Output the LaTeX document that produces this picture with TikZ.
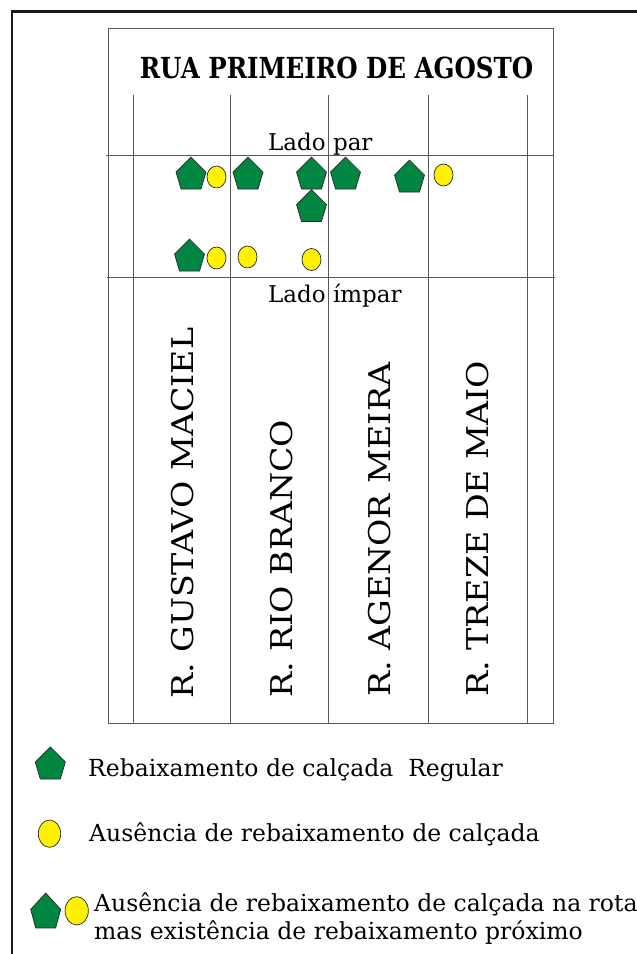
\documentclass[tikz,border=0pt]{standalone}
\usepackage{fontspec}
\setmainfont{DejaVu Serif}
\usetikzlibrary{shapes.geometric}
\definecolor{pentgreen}{RGB}{0,134,64}
\tikzset{
  reb/.pic={\path[draw=black!85, line width=0.7pt, fill=pentgreen] (0, -16) -- (15, -1) -- (10, 16) -- (-10, 16) -- (-15, -1) -- cycle;},
  aus/.style={ellipse, draw=black!85, line width=0.7pt, fill=yellow, minimum width=19pt, minimum height=22pt, inner sep=0pt},
  grade/.style={line width=1pt, color=black!65},
  rua/.style={rotate=90, anchor=base west, inner sep=0pt, font=\fontsize{30}{36}\selectfont, xscale=1.11},
  lado/.style={anchor=base west, inner sep=0pt, font=\fontsize{23}{28}\selectfont},
  legenda/.style={anchor=base west, inner sep=0pt, font=\fontsize{23.5}{28}\selectfont}
}

\begin{document}
\begin{tikzpicture}[x=1pt, y=-1pt]
			%%%%% MOLDURA %%%%%
			\useasboundingbox (0, 0) rectangle (637, 954);
			\draw[line width=2.7pt, color=black!90] (637, 11.5) -- (12, 11.5) -- (12, 954);
			
			\draw[grade] (108, 28.5) rectangle (553, 723);
			\draw[grade] (133, 95) -- (133, 723);
			\draw[grade] (230, 95) -- (230, 723);
			\draw[grade] (328, 95) -- (328, 723);
			\draw[grade] (428, 95) -- (428, 723);
			\draw[grade] (527, 95) -- (527, 723);
			\draw[grade] (106, 155) -- (553, 155);
			\draw[grade] (107, 277) -- (555, 277);
			
			\node[anchor=base, inner sep=0pt, font=\fontsize{29}{34}\selectfont\bfseries, xscale=0.845] (titulo) at (336.5, 78) {RUA PRIMEIRO DE AGOSTO};
			\node[lado] (par) at (268, 150) {Lado par};
			\node[lado] (impar) at (268, 302) {Lado ímpar};
			
			%%%%% RUAS %%%%%
			\node[rua] (gustavo) at (193.5, 699) {R. GUSTAVO MACIEL};
			\node[rua] (rio) at (292.5, 698) {R. RIO BRANCO};
			\node[rua] (agenor) at (390, 697) {R. AGENOR MEIRA};
			\node[rua] (treze) at (488, 697) {R. TREZE DE MAIO};
			
			%%%%% LADO PAR %%%%%
			\pic (p1) at (191, 173) {reb};
			\node[aus] (a1) at (216.5, 177) {};
			\pic (p2) at (248, 173) {reb};
			\pic (p3) at (311.5, 173) {reb};
			\pic (p4) at (345.5, 173) {reb};
			\pic (p5) at (409.5, 176) {reb};
			\node[aus] (a2) at (443.5, 175) {};
			\pic (p6) at (311.5, 205.5) {reb};
			
			%%%%% LADO IMPAR %%%%%
			\pic (p7) at (189.5, 255) {reb};
			\node[aus] (a3) at (216.5, 258) {};
			\node[aus] (a4) at (247.5, 257) {};
			\node[aus] (a5) at (311.5, 259.5) {};
			
			%%%%% LEGENDA %%%%%
			\pic (lp1) at (50.3, 763) {reb};
			\node[legenda] (l1) at (88, 776) {Rebaixamento de calçada\ \ Regular};
			\node[aus, minimum width=22.4pt, minimum height=27.3pt] (la2) at (49.5, 833.7) {};
			\node[legenda] (l2) at (89, 841) {Ausência de rebaixamento de calçada};
			\pic[yscale=1.09] (lp3) at (45.7, 910.5) {reb};
			\node[aus, minimum width=23.3pt, minimum height=28.3pt] (la3) at (76.7, 910.8) {};
			\node[legenda, align=left] (l3) at (94, 939) {Ausência de rebaixamento de calçada na rota\\mas existência de rebaixamento próximo};
			
			%%%%% FIM %%%%%
		\end{tikzpicture}
\end{document}
